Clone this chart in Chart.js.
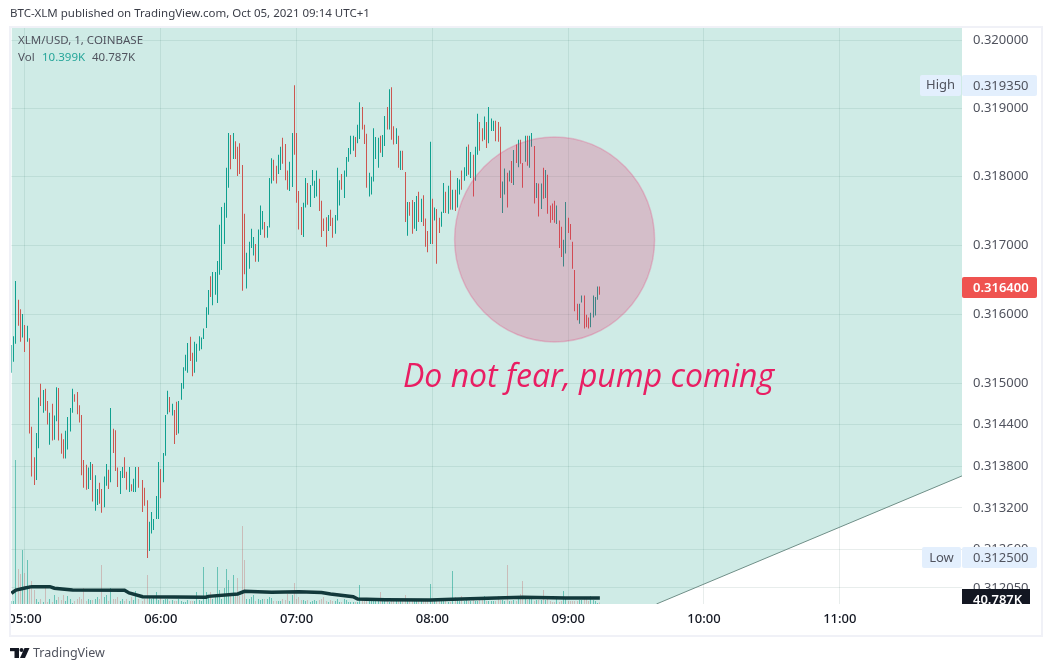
<!DOCTYPE html>
<html><head><meta charset="utf-8">
<style>html,body{margin:0;padding:0;background:#fff}canvas{display:block}</style>
<script src="https://cdn.jsdelivr.net/npm/chart.js@4"></script>
</head><body><canvas id="c" width="1052" height="671"></canvas>
<script>
const barHigh=[.31555,.31568,.31648,.31621,.31607,.31600,.31584,.31583,.31565,.31437,
.31393,.31428,.31479,.31499,.31490,.31492,.31474,.31457,.31470,.31453,
.31494,.31493,.31427,.31419,.31431,.31451,.31464,.31492,.31484,.31487,
.31468,.31454,.31389,.31382,.31378,.31386,.31383,.31367,.31347,.31356,
.31347,.31365,.31383,.31375,.31464,.31434,.31432,.31378,.31373,.31379,
.31393,.31372,.31379,.31354,.31362,.31379,.31379,null,.31360,.31349,
.31331,.31300,.31314,.31304,.31337,.31386,.31376,.31399,.31454,.31489,
.31480,.31470,.31461,.31473,.31474,.31500,.31523,.31541,.31558,.31567,
.31544,.31560,.31557,.31568,.31566,.31579,.31610,.31635,.31655,.31661,
.31661,.31677,.31730,.31756,.31762,.31813,.31864,.31861,.31864,.31852,
.31844,.31849,.31817,.31746,.31689,.31705,.31724,.31712,.31702,.31723,
.31758,.31750,.31734,.31728,.31798,.31827,.31825,.31816,.31832,.31844,
.31857,.31848,.31809,.31822,.31864,.31934,.31864,.31779,.31756,.31762,
.31798,.31791,.31788,.31810,.31794,.31809,.31797,.31765,.31739,.31741,
.31744,.31752,.31740,.31744,.31813,.31795,.31804,.31809,.31829,.31842,
.31860,.31860,.31858,.31876,.31909,.31902,.31876,.31863,.31806,.31800,
.31871,.31858,.31857,.31860,.31861,.31889,.31902,.31928,.31931,.31874,
.31871,.31860,.31838,.31838,.31807,.31763,.31763,.31766,.31763,.31772,
.31778,.31768,.31773,.31739,.31721,.31851,.31768,.31755,.31753,.31740,
.31749,.31791,.31778,.31787,.31809,.31781,.31781,.31798,.31796,.31809,
.31814,.31844,.31847,.31836,.31832,.31844,.31892,.31880,.31871,.31888,
.31880,.31902,.31885,.31882,.31882,.31880,.31873,.31793,.31812,.31806,
.31809,.31823,.31839,.31847,.31854,.31854,.31820,.31860,.31860,.31860,
.31864,.31845,.31791,.31790,.31790,.31813,.31810,.31803,.31758,.31761,
.31765,.31758,.31736,.31727,.31708,.31763,.31740,.31731,.31705,.31664,
.31615,.31615,.31627,.31627,.31599,.31595,.31602,.31627,.31625,.31640,.31640];
const barLow=[.31515,.31531,.31557,.31583,.31560,.31566,.31545,.31560,.31427,.31365,
.31353,.31360,.31406,.31467,.31457,.31460,.31440,.31411,.31417,.31418,
.31445,.31417,.31398,.31391,.31391,.31404,.31430,.31457,.31473,.31455,
.31443,.31367,.31349,.31346,.31347,.31360,.31329,.31316,.31324,.31326,
.31313,.31321,.31352,.31347,.31357,.31399,.31373,.31350,.31340,.31363,
.31363,.31346,.31343,.31344,.31343,.31343,.31349,null,.31314,.31323,
.31248,.31258,.31283,.31288,.31304,.31304,.31334,.31357,.31395,.31455,
.31458,.31453,.31412,.31425,.31427,.31476,.31492,.31518,.31515,.31532,
.31510,.31515,.31531,.31547,.31549,.31564,.31580,.31599,.31625,.31613,
.31628,.31616,.31657,.31664,.31702,.31740,.31784,.31811,.31826,.31826,
.31801,.31804,.31634,.31658,.31637,.31666,.31696,.31685,.31676,.31676,
.31715,.31723,.31711,.31711,.31726,.31790,.31794,.31790,.31804,.31810,
.31819,.31795,.31781,.31779,.31785,.31832,.31762,.31723,.31715,.31712,
.31755,.31759,.31756,.31787,.31769,.31771,.31750,.31712,.31721,.31698,
.31721,.31728,.31711,.31717,.31736,.31758,.31781,.31769,.31800,.31822,
.31833,.31838,.31829,.31849,.31855,.31869,.31848,.31784,.31771,.31774,
.31793,.31826,.31813,.31835,.31829,.31845,.31869,.31869,.31854,.31847,
.31848,.31813,.31810,.31810,.31734,.31714,.31743,.31717,.31724,.31721,
.31734,.31734,.31728,.31698,.31690,.31702,.31702,.31736,.31673,.31718,
.31727,.31747,.31747,.31746,.31752,.31752,.31750,.31755,.31774,.31781,
.31794,.31801,.31803,.31798,.31771,.31794,.31832,.31838,.31852,.31854,
.31842,.31849,.31867,.31867,.31852,.31851,.31769,.31747,.31774,.31755,
.31793,.31791,.31788,.31820,.31814,.31819,.31784,.31822,.31816,.31813,
.31844,.31761,.31769,.31742,.31753,.31768,.31769,.31746,.31733,.31737,
.31733,.31731,.31696,.31683,.31669,.31688,.31718,.31708,.31666,.31604,
.31591,.31586,.31617,.31579,.31581,.31579,.31581,.31595,.31598,.31621,.31628];
const barUp=[1,1,1,0,0,1,0,1,0,0, 0,1,1,0,1,0,0,1,0,1, 1,0,0,0,1,1,1,1,0,0,
0,0,0,0,1,1,0,1,1,0, 0,1,1,0,1,0,0,0,1,1, 0,0,1,0,1,1,0,1,0,0,
0,1,1,1,1,1,0,1,1,1, 0,1,0,0,1,1,1,1,1,0, 0,1,1,1,1,1,1,1,0,1,
1,1,1,1,1,1,1,0,1,0, 0,0,0,0,1,1,1,1,0,1, 1,1,0,1,1,1,0,0,1,1,
0,0,0,1,1,0,0,0,0,1, 1,0,1,1,1,1,0,0,0,0, 1,0,0,1,1,1,0,1,1,1,
1,1,0,1,1,0,0,0,1,1, 1,1,1,0,1,1,0,1,0,0, 1,0,1,0,0,1,0,0,1,1,
0,1,0,0,0,1,0,1,0,0, 1,1,0,1,0,1,0,1,1,0, 1,1,0,1,0,1,1,0,0,1,
0,1,1,1,0,0,0,1,1,0, 1,0,1,0,1,0,0,1,0,1, 1,0,1,0,1,0,1,0,0,0,
0,1,0,0,1,1,0,0,0,0, 0,1,1,0,0,0,1,1,1,1,0];
const volumeK=[20,20,979,238,204,367,211,299,129,156, 95,34,14,34,14,109,14,34,14,61,
27,48,27,61,20,54,34,7,20,34, 48,34,109,20,34,27,27,34,48,34,
265,48,61,20,109,34,34,48,20,34, 20,34,20,48,27,88,34,null,20,34,
197,48,34,41,82,27,48,27,34,34, 20,27,20,20,34,20,14,14,27,20,
20,20,82,27,20,252,82,54,82,34, 54,252,95,34,109,238,163,54,197,54,
177,54,530,299,34,34,48,61,20,34, 27,34,34,34,48,41,20,20,20,20,
34,27,68,20,61,143,34,48,27,27, 20,27,14,20,27,20,27,34,48,20,
14,27,20,20,34,14,14,34,27,14, 14,14,14,14,129,27,27,27,20,20,
20,20,20,82,20,20,20,14,20,20, 20,27,20,20,61,20,20,20,20,20,
20,20,27,20,20,136,27,20,20,27, 20,20,27,14,14,224,48,27,20,54,
20,27,20,20,27,20,20,27,27,54, 20,20,20,20,20,54,27,27,20,265,
20,20,27,20,34,68,156,34,27,34, 34,20,27,27,27,95,27,34,20,14,
14,34,14,20,88,34,20,20,20,20, 20,27,27,34,34,20,54,27,20,7,10.399];
const maTimes=['04:54','04:56','05:00','05:03','05:11','05:13','05:21','05:44','05:46','05:52','06:06','06:20','06:21','06:34','06:37','06:49','07:01','07:11','07:15','07:25','07:27','07:39','07:59','08:09','08:32','08:40','08:59','09:14'];
const maValues=[73,95,109,118,118,107,95,93,75,50,48,46,52,68,86,80,84,78,68,50,34,29,27,32,43,46,41,40.787];
const priceTicks=[.32,.319,.318,.317,.316,.315,.3144,.3138,.3132,.3126,.31205];
const areaTimes=['04:54','09:39','11:54'];
const areaPrices=[.31182,.31182,.31366];
const trendTimes=['09:39','11:54'];
const trendPrices=[.31182,.31366];
const circleTime='08:54',circlePrice=.317085;
const noteTime='07:47',notePrice=.31494,noteText='Do not fear, pump coming';
const highPrice=.31935,lowPrice=.3125,lastPrice=.3164,maLast='40.787K',volNow='10.399K';
const priceMin=.31182,priceMax=.32018,volumeMax=3917;

const labels=[];
for(let i=0;i<421;i++){const m=4*60+54+i;labels.push(String(Math.floor(m/60)).padStart(2,'0')+':'+String(m%60).padStart(2,'0'));}
const FONT='"Noto Sans"';
const TEAL='#0fa08f',RED='#cc5650';
const pts=(ts,vs)=>vs.map((v,i)=>({x:ts[i],y:v}));

function box(ctx,x0,x1,y0,y1,c){ctx.fillStyle=c;ctx.beginPath();ctx.roundRect(x0,y0,x1-x0,y1-y0,2);ctx.fill();}
function txt(ctx,s,x,y,f,c,a){ctx.font=f;ctx.fillStyle=c;ctx.textAlign=a||'left';ctx.textBaseline='middle';ctx.fillText(s,x,y);}

const overlay={id:'overlay',
 beforeDatasetsDraw(ch){
  ch.getSortedVisibleDatasetMetas().forEach(m=>{
   if(m.type==='bar')m.data.forEach(el=>{el.x=Math.floor(el.x)+0.5;el.width=1;});
  });
 },
 afterDatasetsDraw(ch){
  const c=ch.ctx,X=ch.scales.x,Y=ch.scales.y;
  c.save();
  const cx=X.getPixelForValue(labels.indexOf(circleTime)),cy=Y.getPixelForValue(circlePrice);
  c.beginPath();c.ellipse(cx,cy,100,102.5,0,0,Math.PI*2);
  c.fillStyle='rgba(233,30,99,0.22)';c.fill();
  c.strokeStyle='rgba(233,30,99,0.22)';c.lineWidth=1.5;c.stroke();
  c.font='italic 32px "Open Sans"';c.fillStyle='#e91e63';c.textAlign='left';c.textBaseline='alphabetic';
  c.fillText(noteText,X.getPixelForValue(labels.indexOf(noteTime)),Y.getPixelForValue(notePrice));
  const f='11.5px '+FONT;
  txt(c,'XLM/USD, 1, COINBASE',18,41,f,'#50535e');
  txt(c,'Vol',18,58,f,'#50535e');
  txt(c,volNow,42,58,f,'#26a69a');
  txt(c,maLast,92,58,f,'#50535e');
  c.restore();
 },
 afterDraw(ch){
  const c=ch.ctx;
  c.save();
  c.fillStyle='#fff';c.fillRect(0,28,11,610);
  const f13='13px '+FONT,F='#50535e',BL='#e3effd';
  box(c,920,961,75,96,BL);box(c,962,1037,75,96,BL);
  txt(c,'High',940.5,85,f13,F,'center');txt(c,highPrice.toFixed(6),973,86,f13,F);
  box(c,922,961,547,568,BL);box(c,962,1037,547,568,BL);
  txt(c,'Low',941.5,558,f13,F,'center');txt(c,lowPrice.toFixed(6),973,558,f13,F);
  box(c,962,1037,277,298,'#ef5350');
  txt(c,lastPrice.toFixed(6),973,288,'600 13px '+FONT,'#fff');
  c.save();c.beginPath();c.rect(962,589,68,15);c.clip();
  c.fillStyle='#131722';c.fillRect(962,589,68,15);
  txt(c,maLast,973,600,'600 13px '+FONT,'#fff');c.restore();
  c.strokeStyle='#f0f1f7';c.lineWidth=2;c.strokeRect(10,27,1032,609);
  txt(c,'BTC-XLM published on TradingView.com, Oct 05, 2021 09:14 UTC+1',10,14,'11.5px '+FONT,'#3a3d47');
  c.fillStyle='#131722';
  c.fillRect(10,648,9,3.2);c.fillRect(14.5,648,4.5,10);
  c.beginPath();c.arc(21.5,650,2,0,Math.PI*2);c.fill();
  c.beginPath();c.moveTo(24.5,648);c.lineTo(29.5,648);c.lineTo(25,658);c.lineTo(20,658);c.closePath();c.fill();
  txt(c,'TradingView',33,653,'12.5px '+FONT,'#50535e');
  c.restore();
 }};

new Chart(document.getElementById('c'),{
 type:'bar',
 data:{labels,datasets:[
  {type:'line',label:'Volume MA',data:pts(maTimes,maValues),yAxisID:'y1',borderColor:'#12393b',borderWidth:3.5,pointRadius:0,tension:0,fill:false,spanGaps:true,order:0},
  {label:'XLM/USD',data:barHigh.map((h,i)=>h===null?null:[barLow[i],h]),backgroundColor:barUp.map(u=>u?TEAL:RED),barThickness:1,inflateAmount:0,grouped:false,yAxisID:'y',order:1},
  {label:'Vol',data:volumeK,backgroundColor:barUp.map(u=>u?'rgba(20,160,140,0.55)':'rgba(190,80,80,0.3)'),barThickness:1,inflateAmount:0,grouped:false,yAxisID:'y1',order:2},
  {type:'line',label:'Trend',data:pts(trendTimes,trendPrices),yAxisID:'y',borderColor:'#6f8f88',borderWidth:1,pointRadius:0,tension:0,fill:false,order:3},
  {type:'line',label:'Area',data:pts(areaTimes,areaPrices),yAxisID:'y',borderWidth:0,pointRadius:0,tension:0,
   fill:'end',backgroundColor:'rgba(8,153,129,0.195)',order:4}
 ]},
 options:{responsive:false,animation:false,devicePixelRatio:1,
  layout:{padding:{left:11.4,right:9,top:28,bottom:34}},
  plugins:{legend:{display:false},tooltip:{enabled:false},title:{display:false}},
  scales:{
   x:{type:'category',offset:false,border:{display:false},
    grid:{color:'rgba(30,80,70,0.1)',drawTicks:false,offset:false},
    afterBuildTicks:s=>{s.ticks=s.ticks.filter(t=>labels[t.value].endsWith(':00'));},
    afterFit:s=>{s.height=33;},
    ticks:{autoSkip:false,maxRotation:0,padding:7,color:'#131722',font:{family:FONT,size:13,weight:'500'},
     callback(v){return this.getLabelForValue(v);}}},
   y:{type:'logarithmic',position:'right',min:priceMin,max:priceMax,border:{display:false},
    grid:{color:'rgba(30,80,70,0.1)',drawTicks:false},
    afterBuildTicks:s=>{s.ticks=priceTicks.map(v=>({value:v}));},
    afterFit:s=>{s.width=81;},
    ticks:{autoSkip:false,padding:11,color:'#50535e',font:{family:FONT,size:13},callback:v=>Number(v).toFixed(6)}},
   y1:{type:'linear',display:false,min:0,max:volumeMax,position:'left'}
  }},
 plugins:[overlay]
});
</script></body></html>
